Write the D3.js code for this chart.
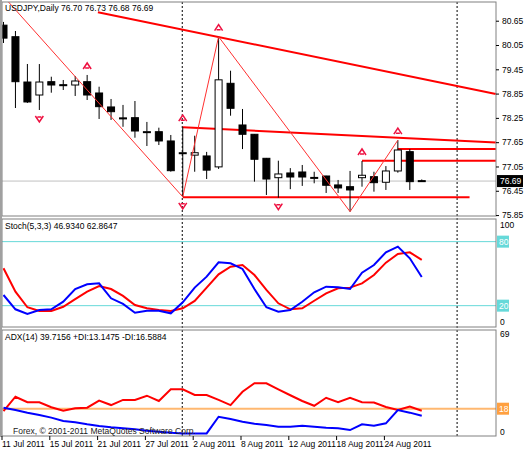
<!DOCTYPE html>
<html><head><meta charset="utf-8">
<script src="https://cdn.jsdelivr.net/npm/d3@7"></script>
<style>body{margin:0;background:#fff}svg{display:block}text{font-family:"Liberation Sans",Arial,sans-serif;font-size:8.5px}</style>
</head><body><svg id="c" width="525" height="450"></svg>
<script>
const dates=["11 Jul 2011","15 Jul 2011","21 Jul 2011","27 Jul 2011","2 Aug 2011","8 Aug 2011","12 Aug 2011","18 Aug 2011","24 Aug 2011"];
const dateBars=[0,4,8,12,16,20,24,28,32];
const open=[80.54,80.255,79.136,78.815,79.144,79.07,79.062,79.144,78.865,78.52,78.25,78.255,77.91,77.909,77.68,77.39,77.33,77.31,77.04,79.104,78.075,77.845,77.252,76.773,76.89,76.914,76.78,76.815,76.594,76.551,76.773,76.798,76.66,76.939,77.416,76.70];
const high=[80.62,80.396,79.581,79.58,79.267,79.186,79.285,79.31,79.02,78.717,78.57,78.667,78.15,78.008,77.828,78.02,77.81,77.41,80.255,79.415,78.47,77.85,77.26,77.193,77.01,77.087,76.92,76.82,76.717,76.94,77.186,76.92,77.06,77.70,77.48,76.73];
const low=[80.10,78.494,78.62,78.445,78.872,78.939,78.791,78.692,78.223,78.2,78.03,77.76,77.556,77.58,76.922,76.30,76.92,76.74,76.99,78.304,77.48,76.675,76.346,76.28,76.49,76.57,76.635,76.396,76.396,75.934,76.551,76.428,76.47,76.897,76.47,76.68];
const close=[80.22,79.144,78.643,79.136,79.062,79.06,79.161,78.815,78.527,78.403,78.24,77.926,77.91,77.68,76.946,77.39,77.39,76.96,79.19,78.487,77.845,77.228,76.74,76.865,76.79,76.79,76.78,76.586,76.52,76.47,76.833,76.65,76.939,77.457,76.675,76.69];
const stochK=[30.0,16.6,12.2,15.9,16.6,23.7,35.6,40.0,40.9,26.9,21.6,13.4,15.3,15.3,12.8,23.1,36.9,47.2,60.6,59.7,54.4,35.6,18.5,14.4,15.9,23.7,32.5,37.8,37.2,35.6,50.9,58.1,70.0,75.3,64.4,46.93];
const stochD=[55.0,33.1,18.5,15.0,15.0,19.0,26.2,33.1,38.4,35.6,29.1,20.6,17.5,15.9,15.0,17.5,24.4,36.9,49.4,56.5,58.1,48.7,34.7,22.2,16.6,17.5,24.6,31.6,36.3,36.9,40.9,48.7,60.3,68.4,70.0,62.86];
const minusDI=[16.4,26.2,22.4,22.4,19.0,16.6,18.3,18.7,23.5,20.5,24.0,24.0,26.9,23.3,31.3,31.3,27.4,27.4,24.0,20.5,29.6,35.4,35.4,31.3,27.2,23.3,20.0,25.5,22.4,25.5,22.4,22.2,19.2,17.1,19.4,16.59];
const plusDI=[18.7,17.1,15.3,13.7,11.9,9.6,8.7,7.3,6.2,5.3,4.6,3.9,2.9,2.3,1.6,1.1,1.1,1.1,12.5,11.0,9.1,7.7,6.8,5.7,5.7,6.4,5.7,5.0,4.6,3.4,7.3,6.4,8.0,17.1,15.3,13.15];
const priceTicks=[80.65,80.05,79.45,78.85,78.25,77.65,77.05,76.45,75.85];
const zigzag=[[-1,81.58],[15,76.30],[18,80.255],[29,75.934],[33,77.70]];
const trendLines=[[[7.9,80.86],[41.2,78.84]],[[15,78.02],[41.2,77.64]],[[15,76.29],[39.0,76.29]],[[30,77.19],[41.2,77.19]],[[33,77.48],[41.2,77.48]]];
const upFractals=[7,15,18,30,33];
const downFractals=[3,15,23,29];
const separators=[15,38];

const svg=d3.select("#c");
const L=2,R=496;
const x=d3.scaleLinear().domain([0,1]).range([3.5,15.45]);
const yP=d3.scaleLinear().domain([75.827,81.112]).range([216,2]);
const yS=d3.scaleLinear().domain([0,100]).range([327,220.3]);
const yA=d3.scaleLinear().domain([0,69]).range([435,334.2]);
const panels=[[2,216],[219,327],[330,436]];
const defs=svg.append("defs");
panels.forEach((p,i)=>defs.append("clipPath").attr("id","cp"+i).append("rect").attr("x",L).attr("y",p[0]).attr("width",R-L).attr("height",p[1]-p[0]));

svg.append("line").attr("x1",L).attr("x2",R).attr("y1",yP(76.69)).attr("y2",yP(76.69)).attr("stroke","#c0c0c0");
separators.forEach(b=>svg.append("line").attr("x1",x(b)-0.5).attr("x2",x(b)-0.5).attr("y1",2).attr("y2",436).attr("stroke","#000").attr("stroke-dasharray","2,2"));

const g0=svg.append("g").attr("clip-path","url(#cp0)");
trendLines.forEach(t=>g0.append("line").attr("x1",x(t[0][0])).attr("y1",yP(t[0][1])).attr("x2",x(t[1][0])).attr("y2",yP(t[1][1])).attr("stroke","#ff0000").attr("stroke-width",2));
const idx=d3.range(open.length);
g0.selectAll(".w").data(idx).join("line").attr("x1",i=>x(i)).attr("x2",i=>x(i)).attr("y1",i=>yP(high[i])).attr("y2",i=>yP(low[i])).attr("stroke","#000");
g0.selectAll(".b").data(idx).join("rect").attr("x",i=>x(i)-3.5).attr("width",7)
 .attr("y",i=>yP(Math.max(open[i],close[i]))).attr("height",i=>Math.max(1,Math.abs(yP(open[i])-yP(close[i]))))
 .attr("fill",i=>close[i]<open[i]?"#000":"#fff").attr("stroke","#000");
g0.append("path").attr("d",d3.line().x(d=>x(d[0])).y(d=>yP(d[1]))(zigzag)).attr("fill","none").attr("stroke","#ff3030").attr("stroke-width",1);
upFractals.forEach(b=>g0.append("path").attr("transform",`translate(${x(b)},${yP(high[b])-9})`).attr("d","M-4,3L0,-3L4,3M-2,2L2,2").attr("fill","none").attr("stroke","#ee1040").attr("stroke-width",1.5));
downFractals.forEach(b=>g0.append("path").attr("transform",`translate(${x(b)},${yP(low[b])+9})`).attr("d","M-4,-3L0,3L4,-3M-2,-2L2,-2").attr("fill","none").attr("stroke","#ee1040").attr("stroke-width",1.5));

const g1=svg.append("g").attr("clip-path","url(#cp1)");
[80,20].forEach(v=>g1.append("line").attr("x1",L).attr("x2",R).attr("y1",yS(v)).attr("y2",yS(v)).attr("stroke","#66d9d9"));
g1.append("path").attr("d",d3.line().x((d,i)=>x(i)).y(d=>yS(d))(stochD)).attr("fill","none").attr("stroke","#ff0000").attr("stroke-width",2);
g1.append("path").attr("d",d3.line().x((d,i)=>x(i)).y(d=>yS(d))(stochK)).attr("fill","none").attr("stroke","#0000ff").attr("stroke-width",2);
const g2=svg.append("g").attr("clip-path","url(#cp2)");
g2.append("line").attr("x1",L).attr("x2",R).attr("y1",yA(18)).attr("y2",yA(18)).attr("stroke","#ffb870").attr("stroke-width",2);
g2.append("path").attr("d",d3.line().x((d,i)=>x(i)).y(d=>yA(d))(minusDI)).attr("fill","none").attr("stroke","#ff0000").attr("stroke-width",2);
g2.append("path").attr("d",d3.line().x((d,i)=>x(i)).y(d=>yA(d))(plusDI)).attr("fill","none").attr("stroke","#0000ff").attr("stroke-width",2);

panels.forEach(p=>svg.append("rect").attr("x",L).attr("y",p[0]).attr("width",R-L).attr("height",p[1]-p[0]).attr("fill","none").attr("stroke","#808080"));
svg.append("line").attr("x1",1).attr("x2",1).attr("y1",0).attr("y2",437).attr("stroke","#a0a0a0").attr("stroke-width",2);

const ax=svg.append("g").attr("transform",`translate(${R},0)`).call(d3.axisRight(yP).tickValues(priceTicks).tickSize(3).tickFormat(d3.format(".2f")));
ax.select(".domain").remove();
ax.selectAll("text").attr("font-size","8px").attr("font-family","Liberation Sans, Arial, sans-serif").attr("fill","#000");
svg.append("rect").attr("x",R+1).attr("y",yP(76.69)-6).attr("width",26).attr("height",12).attr("fill","#000");
svg.append("text").attr("x",R+4).attr("y",yP(76.69)+3).attr("font-size","8px").attr("fill","#fff").text("76.69");
svg.append("text").attr("x",R+4).attr("y",yS(100)+8).attr("font-size","8px").text("100");
svg.append("text").attr("x",R+4).attr("y",yS(0)-2).attr("font-size","8px").text("0");
[80,20].forEach(v=>{svg.append("rect").attr("x",R+1).attr("y",yS(v)-6).attr("width",12).attr("height",12).attr("fill","#66d9d9");svg.append("text").attr("x",R+3).attr("y",yS(v)+3).attr("font-size","8px").attr("fill","#fff").text(v);});
svg.append("text").attr("x",R+4).attr("y",yA(69)+3).attr("font-size","8px").text("69");
svg.append("text").attr("x",R+4).attr("y",yA(0)).attr("font-size","8px").text("0");
svg.append("rect").attr("x",R+1).attr("y",yA(18)-6).attr("width",12).attr("height",12).attr("fill","#ffa040");
svg.append("text").attr("x",R+3).attr("y",yA(18)+3).attr("font-size","8px").attr("fill","#fff").text("18");
const dg=svg.append("g");
dateBars.forEach((b,i)=>{dg.append("line").attr("x1",x(b)-1.5).attr("x2",x(b)-1.5).attr("y1",436).attr("y2",440).attr("stroke","#000");dg.append("text").attr("x",x(b)-1.5).attr("y",447).attr("font-size","8px").text(dates[i]);});
svg.append("text").attr("x",5).attr("y",11).text("USDJPY,Daily  76.70 76.73 76.68 76.69");
svg.append("text").attr("x",5).attr("y",229).text("Stoch(5,3,3) 46.9340 62.8647");
svg.append("text").attr("x",5).attr("y",340).text("ADX(14) 39.7156  +DI:13.1475  -DI:16.5884");
svg.append("text").attr("x",13).attr("y",434).attr("fill","#222").text("Forex, © 2001-2011 MetaQuotes Software Corp.");
</script></body></html>
